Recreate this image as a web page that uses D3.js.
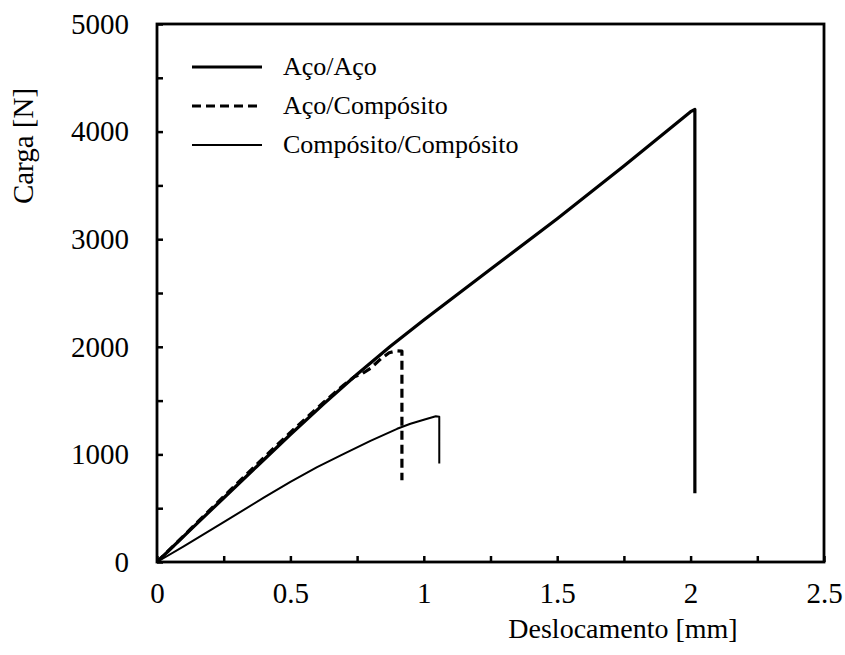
<!DOCTYPE html>
<html>
<head>
<meta charset="utf-8">
<script src="https://cdn.jsdelivr.net/npm/d3@7"></script>
<style>
  html, body { margin: 0; padding: 0; background: #fff; }
  svg { display: block; font-family: "Liberation Serif", "Times New Roman", serif; }
</style>
</head>
<body>
<svg id="chart" width="845" height="655"></svg>
<script>
// Load–displacement curves for three joint configurations
const acoAcoDisp = [0, 0.125, 0.25, 0.375, 0.5, 0.625, 0.75, 0.875, 1.0, 1.25, 1.5, 1.75, 2.0, 2.016, 2.016];
const acoAcoLoad = [0, 298, 595, 890, 1185, 1470, 1745, 2005, 2250, 2720, 3190, 3680, 4185, 4205, 640];

const acoCompDisp = [0, 0.125, 0.25, 0.375, 0.5, 0.625, 0.7, 0.74, 0.77, 0.8, 0.84, 0.87, 0.9, 0.918, 0.918];
const acoCompLoad = [0, 305, 610, 910, 1205, 1485, 1645, 1722, 1752, 1800, 1890, 1945, 1963, 1960, 760];

const compCompDisp = [0, 0.1, 0.25, 0.4, 0.5, 0.6, 0.7, 0.8, 0.9, 0.95, 1.0, 1.045, 1.058, 1.058];
const compCompLoad = [0, 145, 370, 598, 745, 882, 1005, 1125, 1238, 1285, 1322, 1355, 1350, 915];

const seriesNames = ["Aço/Aço", "Aço/Compósito", "Compósito/Compósito"];
const xTicks = [0, 0.25, 0.5, 0.75, 1, 1.25, 1.5, 1.75, 2, 2.25, 2.5];
const yTicks = [0, 500, 1000, 1500, 2000, 2500, 3000, 3500, 4000, 4500, 5000];

(function draw() {
  const svg = d3.select("#chart");
  const plotL = 157, plotR = 824, plotT = 24, plotB = 562;

  const x = d3.scaleLinear().domain([0, 2.5]).range([plotL, plotR]);
  const y = d3.scaleLinear().domain([0, 5000]).range([plotB, plotT]);

  const series = [
    { name: seriesNames[0], xs: acoAcoDisp, ys: acoAcoLoad, width: 3.2, dash: null },
    { name: seriesNames[1], xs: acoCompDisp, ys: acoCompLoad, width: 3.2, dash: "9,5" },
    { name: seriesNames[2], xs: compCompDisp, ys: compCompLoad, width: 2, dash: null }
  ];

  const line = d3.line().x(d => x(d[0])).y(d => y(d[1]));

  // Curves
  series.forEach(s => {
    const pts = s.xs.map((v, i) => [v, s.ys[i]]);
    svg.append("path")
      .attr("d", line(pts))
      .attr("fill", "none")
      .attr("stroke", "#000")
      .attr("stroke-width", s.width)
      .attr("stroke-linejoin", "round")
      .attr("stroke-dasharray", s.dash);
  });

  // Axes with inward ticks
  const xAxis = d3.axisBottom(x)
    .tickValues(xTicks)
    .tickSizeInner(-6).tickSizeOuter(0).tickPadding(20)
    .tickFormat(d => (Math.abs(d * 2 - Math.round(d * 2)) < 1e-9) ? String(d) : "");
  const gx = svg.append("g").attr("transform", `translate(0,${plotB})`).call(xAxis);

  const yAxis = d3.axisLeft(y)
    .tickValues(yTicks)
    .tickSizeInner(-6).tickSizeOuter(0).tickPadding(28)
    .tickFormat(d => d % 1000 === 0 ? String(d) : "");
  const gy = svg.append("g").attr("transform", `translate(${plotL},0)`).call(yAxis);

  [gx, gy].forEach(g => {
    g.select(".domain").remove();
    g.selectAll(".tick line").attr("stroke", "#000").attr("stroke-width", 2.5);
    g.selectAll(".tick text")
      .attr("fill", "#000")
      .style("font-family", "'Liberation Serif', 'Times New Roman', serif")
      .style("font-size", "29px");
  });

  // Plot frame
  svg.append("rect")
    .attr("x", plotL).attr("y", plotT)
    .attr("width", plotR - plotL).attr("height", plotB - plotT)
    .attr("fill", "none").attr("stroke", "#000").attr("stroke-width", 2.8);

  // Axis titles
  svg.append("text")
    .attr("x", 623).attr("y", 638)
    .attr("text-anchor", "middle")
    .style("font-size", "28px")
    .text("Deslocamento [mm]");

  svg.append("text")
    .attr("transform", "translate(33,146) rotate(-90)")
    .attr("text-anchor", "middle")
    .style("font-size", "29px")
    .text("Carga [N]");

  // Legend
  const legY = [67, 106, 145];
  series.forEach((s, i) => {
    svg.append("line")
      .attr("x1", 192).attr("x2", 262)
      .attr("y1", legY[i]).attr("y2", legY[i])
      .attr("stroke", "#000")
      .attr("stroke-width", s.width)
      .attr("stroke-dasharray", s.dash);
    svg.append("text")
      .attr("x", 283).attr("y", legY[i] + 8)
      .style("font-size", "26px")
      .text(s.name);
  });
})();
</script>
</body>
</html>
